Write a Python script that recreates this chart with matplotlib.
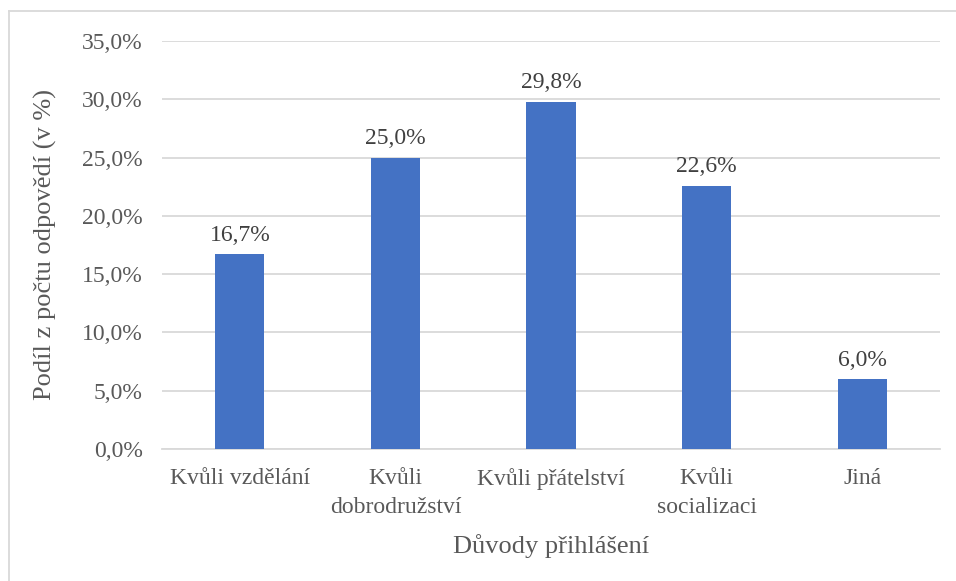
import matplotlib
matplotlib.use("Agg")
import matplotlib.pyplot as plt
from matplotlib.lines import Line2D

categories = ["Kvůli vzdělání", "Kvůli\ndobrodružství", "Kvůli přátelství", "Kvůli\nsocializaci", "Jiná"]
values = [16.7, 25.0, 29.8, 22.6, 6.0]
yticks = [0, 5, 10, 15, 20, 25, 30, 35]

plt.rcParams['font.family'] = ['Liberation Serif', 'DejaVu Serif']
text_color = '#595959'
W, H = 956, 581
fig = plt.figure(figsize=(W/100, H/100), dpi=100)
ax = fig.add_axes([162/W, 1-449/H, (940-162)/W, (449-41)/H])

x = list(range(len(categories)))
bars = ax.bar(x, values, width=0.315, color='#4472C4', zorder=3)
for b, v in zip(bars, values):
    ax.annotate(f"{v:.1f}%".replace('.', ','), (b.get_x()+b.get_width()/2, v),
                xytext=(0, 6), textcoords='offset points', ha='center', va='bottom',
                fontsize=17, color='#404040')

ax.set_xlim(-0.5, len(categories)-0.5)
ax.set_ylim(0, 35)
ax.set_yticks(yticks)
ax.set_yticklabels([f"{t:.1f}%".replace('.', ',') for t in yticks])
ax.set_xticks(x)
ax.set_xticklabels(categories, linespacing=1.45)
ax.tick_params(axis='both', length=0, labelsize=17, colors=text_color)
ax.tick_params(axis='y', pad=14)
ax.tick_params(axis='x', pad=14)
ax.yaxis.grid(True, color='#D9D9D9', linewidth=1.3, zorder=0)
for s in ['top', 'right', 'left']:
    ax.spines[s].set_visible(False)
ax.spines['bottom'].set_color('#D9D9D9')
ax.spines['bottom'].set_linewidth(1.3)

ax.set_ylabel("Podíl z počtu odpovědí (v %)", fontsize=19, color=text_color, labelpad=18)
ax.set_xlabel("Důvody přihlášení", fontsize=19, color=text_color, labelpad=12)

fig.add_artist(Line2D([9/W, 9/W], [0, 1-11/H], color='#D9D9D9', lw=1.3, transform=fig.transFigure))
fig.add_artist(Line2D([9/W, 1], [1-11/H, 1-11/H], color='#D9D9D9', lw=1.3, transform=fig.transFigure))

fig.savefig("out.png", dpi=100)
